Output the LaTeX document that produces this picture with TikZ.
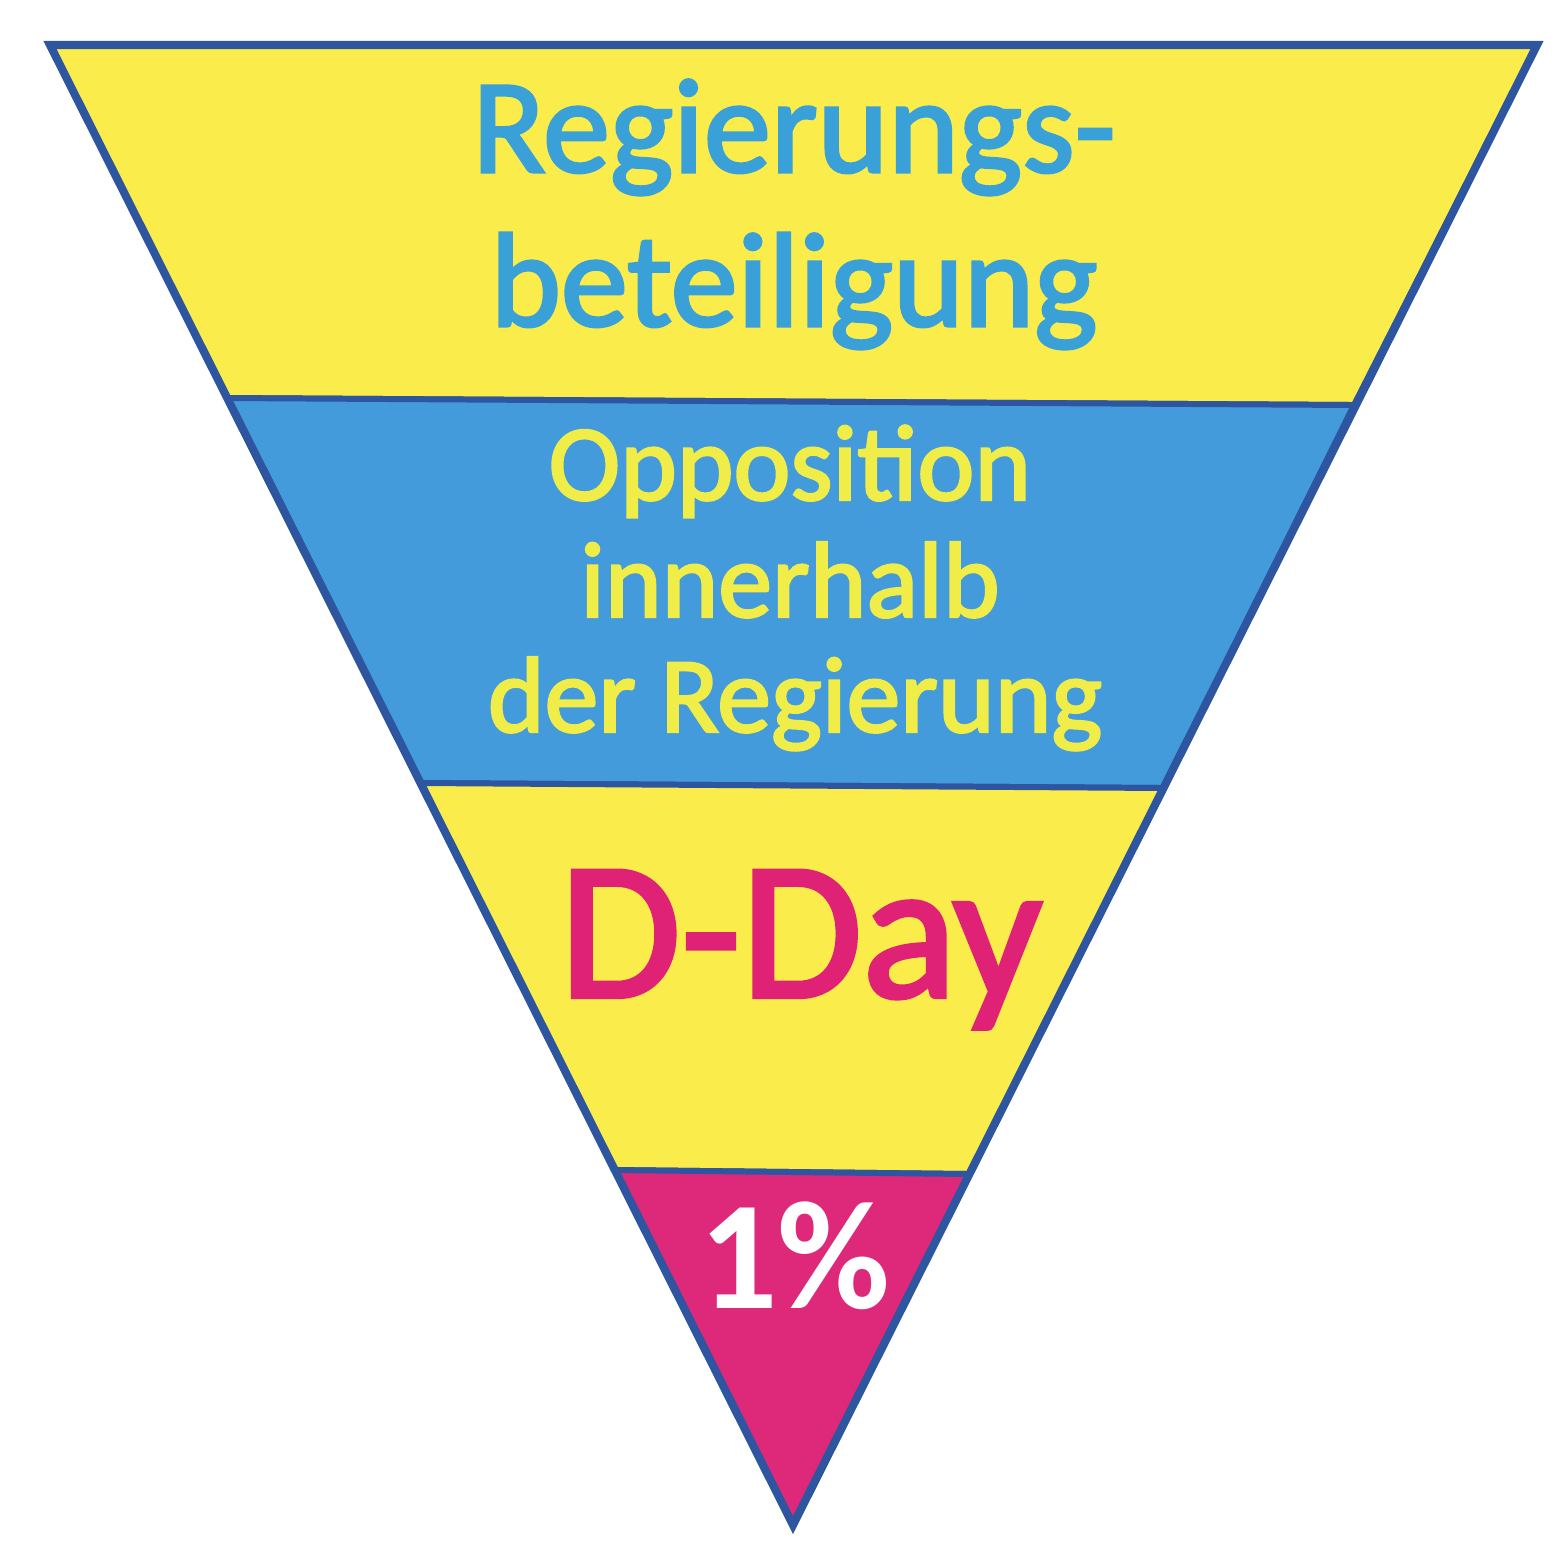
\documentclass[tikz,border=0pt]{standalone}
\usepackage{fontspec}
\setmainfont{Carlito}
\newfontfamily\semifont[FakeBold=2.2]{Carlito}
\definecolor{bandyellow}{RGB}{250,236,74}
\definecolor{bandblue}{RGB}{68,155,219}
\definecolor{bandmagenta}{RGB}{222,40,122}
\definecolor{edgeblue}{RGB}{45,85,160}
\definecolor{txtblue}{RGB}{58,160,216}
\definecolor{txtyellow}{RGB}{240,236,72}
\definecolor{txtmagenta}{RGB}{224,34,118}
\begin{document}
\begin{tikzpicture}[x=0.01cm,y=-0.01cm,
  band/.style={draw=edgeblue,line width=1.7pt,line join=round},
  lbl/.style={inner sep=0pt,anchor=base}]
\useasboundingbox (0,0) rectangle (1566,1562);
% corner coordinates
\coordinate (TL) at (50,45);
\coordinate (TR) at (1537,45);
\coordinate (A) at (793,1525);
\coordinate (L1) at (227,398);
\coordinate (R1) at (1354,405);
\coordinate (L2) at (421,783);
\coordinate (R2) at (1164,788);
\coordinate (L3) at (615,1170);
\coordinate (R3) at (969,1174);
% bands
\path[band,fill=bandyellow] (TL) -- (TR) -- (R1) -- (L1) -- cycle;
\path[band,fill=bandblue] (L1) -- (R1) -- (R2) -- (L2) -- cycle;
\path[band,fill=bandyellow] (L2) -- (R2) -- (R3) -- (L3) -- cycle;
\path[band,fill=bandmagenta] (L3) -- (R3) -- (A) -- cycle;
% outer outline
\draw[edgeblue,line width=2.3pt,line join=miter] (TL) -- (TR) -- (A) -- cycle;
% texts
\node[lbl,text=txtblue,font=\semifont\fontsize{38.2}{44}\selectfont] (t1a) at (794,172) {Regierungs-};
\node[lbl,text=txtblue,font=\semifont\fontsize{38.2}{44}\selectfont] (t1b) at (794,326) {beteiligung};
\node[lbl,text=txtyellow,font=\semifont\fontsize{30.7}{33}\selectfont] (t2a) at (790,500) {Opposition};
\node[lbl,text=txtyellow,font=\semifont\fontsize{30.7}{33}\selectfont] (t2b) at (790,617) {innerhalb};
\node[lbl,text=txtyellow,font=\semifont\fontsize{30.7}{33}\selectfont] (t2c) at (795,732) {der Regierung};
\node[lbl,text=txtmagenta,font=\semifont\fontsize{56}{60}\selectfont] (t3) at (801,997) {D-Day};
\node[lbl,text=white,font=\fontsize{44}{48}\selectfont\bfseries] (t4) at (795,1308) {1\%};
\end{tikzpicture}
\end{document}
